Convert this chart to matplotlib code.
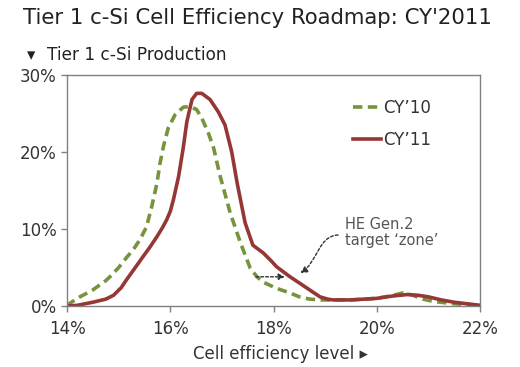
import numpy as np
import matplotlib.pyplot as plt
from matplotlib.ticker import FuncFormatter
from matplotlib.patches import FancyArrowPatch
from matplotlib.path import Path

# efficiency level (%) and share of production (%)
cy10_x = [14.0, 14.06, 14.25, 14.5, 14.75, 14.83, 15.0, 15.14, 15.28, 15.41, 15.54, 15.64,
          15.74, 15.8, 15.87, 15.96, 16.09, 16.25, 16.38, 16.51, 16.61, 16.74, 16.84, 16.96,
          17.16, 17.36, 17.55, 17.68, 17.8, 18.06, 18.32, 18.5, 18.7, 18.9, 19.5, 20.0,
          20.25, 20.5, 20.7, 20.9, 21.1, 21.5, 22.0]
cy10_y = [0.0, 0.4, 1.2, 2.1, 3.3, 3.8, 5.0, 6.2, 7.3, 8.6, 10.3, 12.9,
          15.9, 18.5, 20.8, 23.1, 24.8, 25.8, 25.9, 25.5, 24.4, 22.4, 20.5, 17.0,
          12.1, 8.2, 4.9, 3.8, 3.1, 2.3, 1.7, 1.2, 0.9, 0.8, 0.8, 1.0,
          1.3, 1.7, 1.4, 0.9, 0.6, 0.3, 0.1]

cy11_x = [14.0, 14.2, 14.5, 14.75, 14.9, 15.05, 15.15, 15.3, 15.47, 15.6, 15.74, 15.85,
          15.93, 16.0, 16.06, 16.16, 16.25, 16.32, 16.42, 16.51, 16.61, 16.77, 16.93, 17.06,
          17.19, 17.3, 17.45, 17.6, 17.7, 17.8, 17.95, 18.06, 18.2, 18.32, 18.5, 18.7,
          18.9, 19.05, 19.15, 19.5, 19.75, 20.0, 20.3, 20.6, 20.8, 21.0, 21.25, 21.5,
          21.75, 22.0]
cy11_y = [0.0, 0.1, 0.5, 0.9, 1.4, 2.4, 3.4, 4.8, 6.4, 7.6, 9.0, 10.2,
          11.2, 12.3, 13.8, 16.8, 20.5, 23.9, 26.8, 27.6, 27.6, 26.8, 25.2, 23.5,
          20.0, 15.8, 10.8, 7.9, 7.4, 6.9, 5.9, 5.1, 4.4, 3.8, 3.0, 2.1,
          1.2, 0.9, 0.8, 0.8, 0.9, 1.0, 1.3, 1.5, 1.4, 1.2, 0.8, 0.5,
          0.3, 0.1]

x_ticks = [14, 16, 18, 20, 22]
y_ticks = [0, 10, 20, 30]

green = "#77933C"
red = "#953735"
grey = "#808080"
txt = "#333333"

fig = plt.figure(figsize=(5.2, 3.67), dpi=100)
ax = fig.add_axes([0.129, 0.166, 0.794, 0.63])

ax.plot(cy10_x, cy10_y, color=green, lw=2.6, dashes=(2.6, 1.5), label="CY\u201910",
        dash_capstyle="butt", solid_joinstyle="round")
ax.plot(cy11_x, cy11_y, color=red, lw=2.6, label="CY\u201911", solid_joinstyle="round")

ax.set_xlim(14, 22)
ax.set_ylim(0, 30)
ax.set_xticks(x_ticks)
ax.set_yticks(y_ticks)
ax.xaxis.set_major_formatter(FuncFormatter(lambda v, p: f"{v:.0f}%"))
ax.yaxis.set_major_formatter(FuncFormatter(lambda v, p: f"{v:.0f}%"))
ax.tick_params(axis="both", colors=grey, labelcolor=txt, labelsize=12, length=4, width=1)
ax.tick_params(axis="x", pad=6)
for s in ax.spines.values():
    s.set_color(grey)
    s.set_linewidth(1)

leg = ax.legend(loc="upper left", bbox_to_anchor=(0.655, 0.96), frameon=False,
                fontsize=12, handlelength=1.7, handletextpad=0.15, labelspacing=0.85,
                labelcolor=txt)

# annotations
ax.text(19.38, 11.5, "HE Gen.2\ntarget \u2018zone\u2019", fontsize=10.5, color="#555555",
        va="top", ha="left", linespacing=1.05)
curl = Path([(19.25, 9.22), (18.86, 9.09), (18.86, 5.71), (18.52, 4.29)],
            [Path.MOVETO, Path.CURVE4, Path.CURVE4, Path.CURVE4])
ax.add_patch(FancyArrowPatch(path=curl, arrowstyle="-|>", color=txt, lw=1,
                             ls=(0, (2, 1.5)), mutation_scale=10))
ax.annotate("", xy=(18.22, 3.8), xytext=(17.66, 3.8),
            arrowprops=dict(arrowstyle="-|>", color=txt, lw=1, ls=(0, (2, 1.5)),
                            shrinkA=0, shrinkB=0, mutation_scale=9))

fig.text(0.044, 0.95, "Tier 1 c-Si Cell Efficiency Roadmap: CY'2011", fontsize=15.3,
         color="#222222", va="center", ha="left")
fig.text(0.052, 0.85, "\u25be", fontsize=12, color="#222222", va="center", ha="left")
fig.text(0.09, 0.85, "Tier 1 c-Si Production", fontsize=12.2, color="#222222",
         va="center", ha="left")
ax.set_xlabel("Cell efficiency level \u25b8", fontsize=12, color=txt)
ax.xaxis.set_label_coords(0.516, -0.17)

fig.savefig("out.png", dpi=100)
